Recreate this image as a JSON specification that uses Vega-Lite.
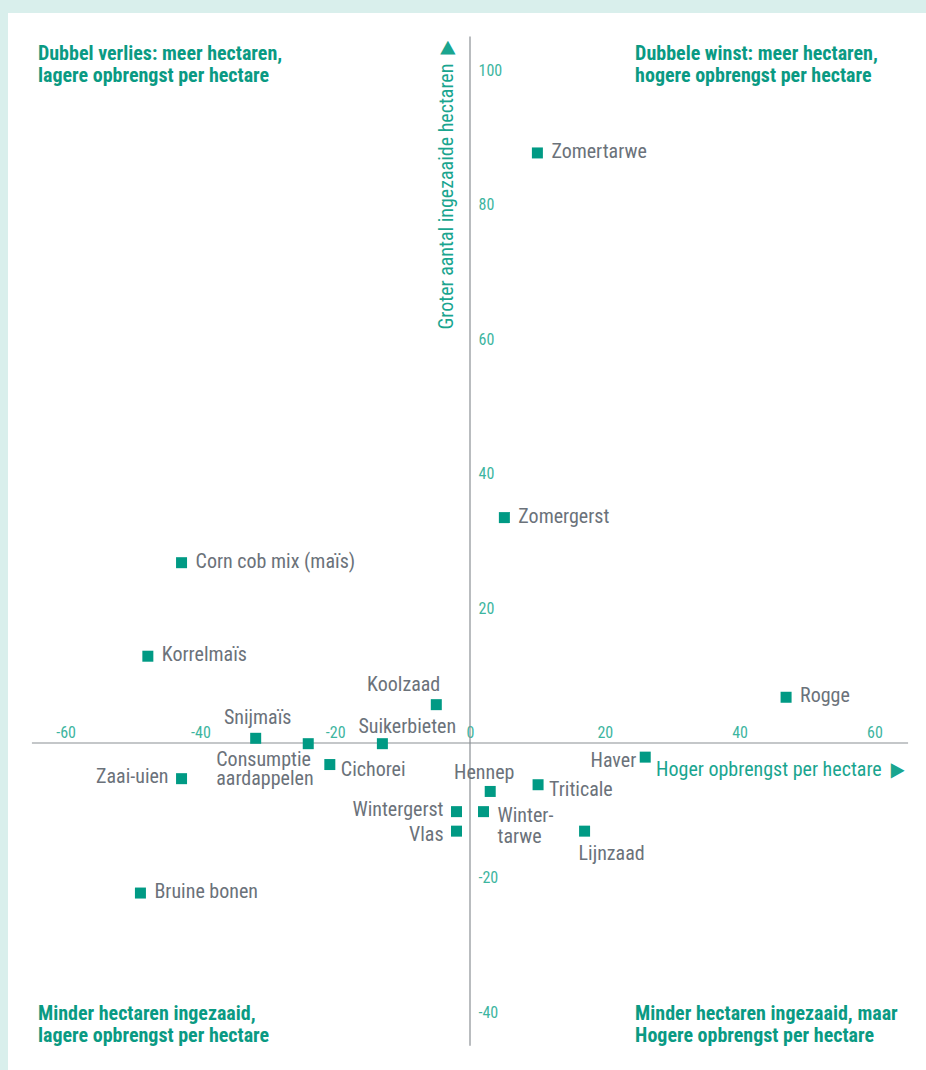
{
  "$schema": "https://vega.github.io/schema/vega-lite/v6.json",
  "width": 918,
  "height": 1057,
  "autosize": "none",
  "padding": {"left": 8, "top": 13, "right": 0, "bottom": 0},
  "background": "#d9efec",
  "config": {
    "view": {"fill": "white", "stroke": null},
    "text": {"font": "Liberation Sans Narrow, Roboto Condensed, DejaVu Sans Condensed, sans-serif", "lineBreak": "\n"},
    "axis": {"labelFont": "Liberation Sans Narrow, Roboto Condensed, DejaVu Sans Condensed, sans-serif", "grid": false, "domain": false, "ticks": false, "tickSize": 0, "labelColor": "#3db5a0", "labelFontSize": 16, "title": null}
  },
  "datasets": {
    "crops": [
      {"name": "Zomertarwe", "label": "Zomertarwe", "x": 10.0, "y": 87.7},
      {"name": "Zomergerst", "label": "Zomergerst", "x": 5.1, "y": 33.5},
      {"name": "Corn cob mix (maïs)", "label": "Corn cob mix (maïs)", "x": -42.8, "y": 26.8},
      {"name": "Korrelmaïs", "label": "Korrelmaïs", "x": -47.8, "y": 12.9},
      {"name": "Koolzaad", "label": "Koolzaad", "x": -5.0, "y": 5.7},
      {"name": "Rogge", "label": "Rogge", "x": 46.9, "y": 6.8},
      {"name": "Snijmaïs", "label": "Snijmaïs", "x": -31.8, "y": 0.7},
      {"name": "Consumptie aardappelen", "label": "Consumptie\naardappelen", "x": -24.0, "y": -0.1},
      {"name": "Suikerbieten", "label": "Suikerbieten", "x": -13.0, "y": -0.1},
      {"name": "Cichorei", "label": "Cichorei", "x": -20.8, "y": -3.2},
      {"name": "Zaai-uien", "label": "Zaai-uien", "x": -42.8, "y": -5.3},
      {"name": "Haver", "label": "Haver", "x": 26.0, "y": -2.1},
      {"name": "Hennep", "label": "Hennep", "x": 3.0, "y": -7.2},
      {"name": "Triticale", "label": "Triticale", "x": 10.1, "y": -6.2},
      {"name": "Wintergerst", "label": "Wintergerst", "x": -2.0, "y": -10.2},
      {"name": "Wintertarwe", "label": "Winter-\ntarwe", "x": 2.0, "y": -10.2},
      {"name": "Vlas", "label": "Vlas", "x": -2.0, "y": -13.1},
      {"name": "Lijnzaad", "label": "Lijnzaad", "x": 17.0, "y": -13.1},
      {"name": "Bruine bonen", "label": "Bruine bonen", "x": -48.9, "y": -22.3}
    ],
    "axislines": [
      {"x": -65, "x2": 65, "y": 0, "y2": 0},
      {"x": 0, "x2": 0, "y": -45, "y2": 105}
    ],
    "quadrants": [
      {"label": "Dubbel verlies: meer hectaren,\nlagere opbrengst per hectare", "x": -64.1, "y": 101.5},
      {"label": "Dubbele winst: meer hectaren,\nhogere opbrengst per hectare", "x": 24.5, "y": 101.5},
      {"label": "Minder hectaren ingezaaid,\nlagere opbrengst per hectare", "x": -64.1, "y": -41.2},
      {"label": "Minder hectaren ingezaaid, maar\nHogere opbrengst per hectare", "x": 24.5, "y": -41.2}
    ],
    "ytitle": [{"label": "Groter aantal ingezaaide hectaren\u00a0 ▶", "x": -3.4, "y": 104.4}],
    "xtitle": [{"label": "Hoger opbrengst per hectare\u00a0 ▶", "x": 64.5, "y": -4.0}]
  },
  "encoding": {
    "x": {
      "field": "x", "type": "quantitative",
      "scale": {"domain": [-68.55, 67.66], "nice": false, "zero": false},
      "axis": {
        "orient": "top", "offset": -730, "values": [-60, -40, -20, 0, 20, 40, 60],
        "labelPadding": 6, "labelBaseline": "alphabetic", "labelFlush": false,
        "labelExpr": "replace(datum.label, '\u2212', '-')",
        "encode": {"labels": {"update": {"dx": {"signal": "datum.value === 0 ? 10 : 0"}}}}
      }
    },
    "y": {
      "field": "y", "type": "quantitative",
      "scale": {"domain": [-48.6, 108.5], "nice": false, "zero": false},
      "axis": {
        "orient": "right", "offset": -456, "values": [-40, -20, 20, 40, 60, 80, 100],
        "labelPadding": 8, "labelAlign": "left", "labelBaseline": "middle", "labelFlush": false,
        "labelExpr": "replace(datum.label, '\u2212', '-')"
      }
    }
  },
  "layer": [
    {
      "data": {"name": "axislines"},
      "mark": {"type": "rule", "color": "#8a8f94", "strokeWidth": 1.2},
      "encoding": {"x2": {"field": "x2"}, "y2": {"field": "y2"}}
    },
    {
      "data": {"name": "crops"},
      "mark": {"type": "square", "size": 121, "color": "#009a84", "opacity": 1}
    },
    {
      "data": {"name": "crops"},
      "transform": [{"filter": {"field": "name", "oneOf": ["Zomertarwe", "Zomergerst", "Corn cob mix (maïs)", "Korrelmaïs", "Rogge", "Bruine bonen"]}}],
      "mark": {"type": "text", "align": "left", "baseline": "middle", "dx": 14, "dy": -1, "fontSize": 20, "color": "#6b727a"},
      "encoding": {"text": {"field": "label"}}
    },
    {
      "data": {"name": "crops"},
      "transform": [{"filter": {"field": "name", "oneOf": ["Cichorei", "Triticale"]}}],
      "mark": {"type": "text", "align": "left", "baseline": "middle", "dx": 11, "dy": 5, "fontSize": 20, "color": "#6b727a"},
      "encoding": {"text": {"field": "label"}}
    },
    {
      "data": {"name": "crops"},
      "transform": [{"filter": {"field": "name", "oneOf": ["Wintertarwe"]}}],
      "mark": {"type": "text", "align": "left", "baseline": "middle", "dx": 14, "dy": 4, "fontSize": 20, "lineHeight": 21, "color": "#6b727a"},
      "encoding": {"text": {"field": "label"}}
    },
    {
      "data": {"name": "crops"},
      "transform": [{"filter": {"field": "name", "oneOf": ["Zaai-uien", "Wintergerst"]}}],
      "mark": {"type": "text", "align": "right", "baseline": "middle", "dx": -13, "dy": -2, "fontSize": 20, "color": "#6b727a"},
      "encoding": {"text": {"field": "label"}}
    },
    {
      "data": {"name": "crops"},
      "transform": [{"filter": {"field": "name", "oneOf": ["Vlas"]}}],
      "mark": {"type": "text", "align": "right", "baseline": "middle", "dx": -13, "dy": 4, "fontSize": 20, "color": "#6b727a"},
      "encoding": {"text": {"field": "label"}}
    },
    {
      "data": {"name": "crops"},
      "transform": [{"filter": {"field": "name", "oneOf": ["Haver"]}}],
      "mark": {"type": "text", "align": "right", "baseline": "middle", "dx": -9, "dy": 4, "fontSize": 20, "color": "#6b727a"},
      "encoding": {"text": {"field": "label"}}
    },
    {
      "data": {"name": "crops"},
      "transform": [{"filter": {"field": "name", "oneOf": ["Snijmaïs"]}}],
      "mark": {"type": "text", "align": "center", "baseline": "middle", "dx": 2, "dy": -20, "fontSize": 20, "color": "#6b727a"},
      "encoding": {"text": {"field": "label"}}
    },
    {
      "data": {"name": "crops"},
      "transform": [{"filter": {"field": "name", "oneOf": ["Suikerbieten"]}}],
      "mark": {"type": "text", "align": "left", "baseline": "middle", "dx": -24, "dy": -17, "fontSize": 20, "color": "#6b727a"},
      "encoding": {"text": {"field": "label"}}
    },
    {
      "data": {"name": "crops"},
      "transform": [{"filter": {"field": "name", "oneOf": ["Koolzaad"]}}],
      "mark": {"type": "text", "align": "right", "baseline": "middle", "dx": 4, "dy": -20, "fontSize": 20, "color": "#6b727a"},
      "encoding": {"text": {"field": "label"}}
    },
    {
      "data": {"name": "crops"},
      "transform": [{"filter": {"field": "name", "oneOf": ["Hennep"]}}],
      "mark": {"type": "text", "align": "center", "baseline": "middle", "dx": -6, "dy": -18, "fontSize": 20, "color": "#6b727a"},
      "encoding": {"text": {"field": "label"}}
    },
    {
      "data": {"name": "crops"},
      "transform": [{"filter": {"field": "name", "oneOf": ["Consumptie aardappelen"]}}],
      "mark": {"type": "text", "align": "left", "baseline": "middle", "dx": -92, "dy": 16, "fontSize": 20, "lineHeight": 19, "color": "#6b727a"},
      "encoding": {"text": {"field": "label"}}
    },
    {
      "data": {"name": "crops"},
      "transform": [{"filter": {"field": "name", "oneOf": ["Lijnzaad"]}}],
      "mark": {"type": "text", "align": "left", "baseline": "middle", "dx": -6, "dy": 23, "fontSize": 20, "color": "#6b727a"},
      "encoding": {"text": {"field": "label"}}
    },
    {
      "data": {"name": "quadrants"},
      "mark": {"type": "text", "align": "left", "baseline": "alphabetic", "fontSize": 20, "fontWeight": "bold", "lineHeight": 22, "color": "#0a9a83"},
      "encoding": {"text": {"field": "label"}}
    },
    {
      "data": {"name": "ytitle"},
      "mark": {"type": "text", "align": "right", "baseline": "middle", "angle": -90, "fontSize": 20, "color": "#1aa58f"},
      "encoding": {"text": {"field": "label"}}
    },
    {
      "data": {"name": "xtitle"},
      "mark": {"type": "text", "align": "right", "baseline": "middle", "fontSize": 20, "color": "#1aa58f"},
      "encoding": {"text": {"field": "label"}}
    }
  ]
}
